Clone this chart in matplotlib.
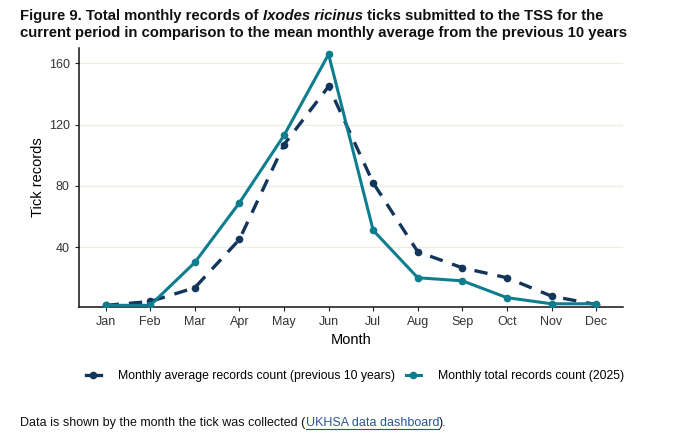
import matplotlib
matplotlib.use("Agg")
import matplotlib.pyplot as plt
from matplotlib.lines import Line2D

months = ["Jan", "Feb", "Mar", "Apr", "May", "Jun",
          "Jul", "Aug", "Sep", "Oct", "Nov", "Dec"]
avg_10yr = [2, 4.5, 13.5, 45, 107, 145, 82, 37, 26.5, 20, 8, 2.5]
total_2025 = [2, 2, 30, 69, 113, 166, 51, 20, 18, 7, 3, 3]
yticks = [40, 80, 120, 160]

navy = "#12365a"
teal = "#0e7d90"

plt.rcParams["font.family"] = ["Liberation Sans", "DejaVu Sans"]

fig = plt.figure(figsize=(6.8, 4.46), dpi=100)
ax = fig.add_axes([0.116, 0.312, 0.800, 0.580])

x = list(range(len(months)))
ax.plot(x, avg_10yr, color=navy, lw=2.4, ls=(0, (4, 3)), marker="o", ms=4.5,
        zorder=3)
ax.plot(x, total_2025, color=teal, lw=2.2, marker="o", ms=4.5, zorder=4)

ax.set_xlim(-0.6, 11.6)
ax.set_ylim(1, 170)
ax.set_xticks(x)
ax.set_xticklabels(months)
ax.set_yticks(yticks)
ax.tick_params(labelsize=9, colors="#333333", length=3, width=0.8)
ax.tick_params(axis="both", color="#222222")
ax.grid(axis="y", color="#efede2", lw=0.9)
ax.set_axisbelow(True)
for side in ("top", "right"):
    ax.spines[side].set_visible(False)
for side in ("left", "bottom"):
    ax.spines[side].set_linewidth(1.1)
    ax.spines[side].set_color("#111111")

ax.set_xlabel("Month", fontsize=10.5, labelpad=4)
ax.set_ylabel("Tick records", fontsize=10.5, labelpad=3)

handles = [
    Line2D([], [], color=navy, lw=2.4, marker="o", ms=4.5),
    Line2D([], [], color=teal, lw=2.2, marker="o", ms=4.5),
]
fig.legend(handles,
           ["Monthly average records count (previous 10 years)",
            "Monthly total records count (2025)"],
           loc="center", bbox_to_anchor=(0.522, 0.157), ncol=2, frameon=False,
           fontsize=8.8, handlelength=1.2, columnspacing=0.9, handletextpad=1.4)

fig.canvas.draw()
renderer = fig.canvas.get_renderer()


def text_run(pieces, x0, y0, size, weight="normal"):
    # place pieces of text one after another on the same baseline
    xpos = x0
    for txt, style, color, underline in pieces:
        t = fig.text(xpos, y0, txt, fontsize=size, fontweight=weight,
                     fontstyle=style, color=color, va="baseline")
        bb = t.get_window_extent(renderer).transformed(fig.transFigure.inverted())
        if underline:
            fig.add_artist(Line2D([bb.x0, bb.x1], [y0 - 0.006, y0 - 0.006],
                                  color=color, lw=0.8,
                                  transform=fig.transFigure))
        xpos = bb.x1


text_run([("Figure 9. Total monthly records of ", "normal", "#111111", False),
          ("Ixodes ricinus", "italic", "#111111", False),
          (" ticks submitted to the TSS for the", "normal", "#111111", False)],
         0.030, 0.955, 10.75, weight="bold")
text_run([("current period in comparison to the mean monthly average from the previous 10 years",
           "normal", "#111111", False)],
         0.030, 0.917, 10.75, weight="bold")

text_run([("Data is shown by the month the tick was collected (", "normal", "#111111", False),
          ("UKHSA data dashboard", "normal", "#2a5599", True),
          (").", "normal", "#111111", False)],
         0.030, 0.045, 9)

fig.savefig("out.png", dpi=100)
